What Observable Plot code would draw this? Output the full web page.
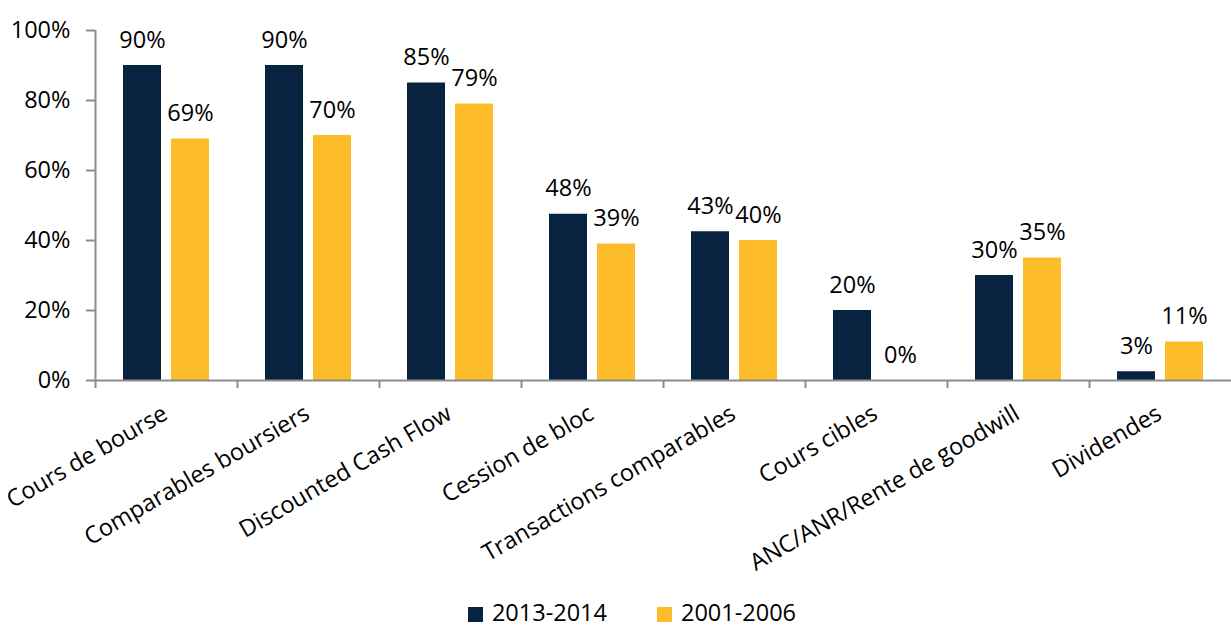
<!DOCTYPE html>
<html>
<head>
<meta charset="utf-8">
<script src="https://cdn.jsdelivr.net/npm/d3@7"></script>
<script src="https://cdn.jsdelivr.net/npm/@observablehq/plot@0.6"></script>
<style>
  html, body { margin: 0; padding: 0; background: #fff; }
  body { width: 1231px; height: 626px; overflow: hidden; font-family: "Open Sans", sans-serif; }
  #chart svg { display: block; }
  #legend { display: flex; justify-content: center; align-items: center; height: 26px; font-size: 23.5px; line-height: 1; color: #000; padding-left: 33px; }
  .item { display: flex; align-items: center; margin: 0 25px; line-height: 1; }
  .sw { width: 15px; height: 15px; margin-right: 9px; margin-top: 2px; }
</style>
</head>
<body>
<div id="chart"></div>
<div id="legend"></div>
<script>
const categories = ["Cours de bourse", "Comparables boursiers", "Discounted Cash Flow", "Cession de bloc", "Transactions comparables", "Cours cibles", "ANC/ANR/Rente de goodwill", "Dividendes"];
const series = ["2013-2014", "2001-2006"];
const values2013 = [90, 90, 85, 47.5, 42.5, 20, 30, 2.5];
const values2001 = [69, 70, 79, 39, 40, 0, 35, 11];
const yTicks = [0, 20, 40, 60, 80, 100];
const colors = ["#08233f", "#fdbd2a"];

const d13 = categories.map((c, i) => ({cat: c, v: values2013[i]}));
const d01 = categories.map((c, i) => ({cat: c, v: values2001[i]}));
const fmt = v => Math.round(v) + "%";
const gray = "#8c8c8c";
const FS = 23.5;

const chart = Plot.plot({
  width: 1231,
  height: 600,
  marginLeft: 95,
  marginRight: 0,
  marginTop: 30,
  marginBottom: 220,
  style: {fontFamily: "Open Sans, sans-serif", fontSize: FS + "px", color: "#000", background: "#fff"},
  x: {domain: categories, padding: 0, axis: null},
  y: {domain: [0, 100], axis: null},
  marks: [
    Plot.barY(d13, {x: "cat", y: "v", fill: colors[0], insetLeft: 28, insetRight: 76}),
    Plot.barY(d01, {x: "cat", y: "v", fill: colors[1], insetLeft: 76, insetRight: 28}),
    Plot.text(d13, {x: "cat", y: "v", text: d => fmt(d.v), dx: -24, dy: -18, lineAnchor: "bottom", fill: "#000", fontSize: FS}),
    Plot.text(d01, {x: "cat", y: "v", text: d => fmt(d.v), dx: 24, dy: -18, lineAnchor: "bottom", fill: "#000", fontSize: FS}),
    Plot.ruleY([0], {stroke: gray, strokeWidth: 2}),
    Plot.ruleX([categories[0]], {x: d => d, dx: -71, y1: 0, y2: 100, stroke: gray, strokeWidth: 2}),
    Plot.axisY({ticks: yTicks, tickSize: 9, tickPadding: 16, tickFormat: d => d + "%", stroke: gray, strokeWidth: 2, fontSize: FS, fill: "#000", label: null}),
    Plot.axisX({tickSize: 8, tickFormat: () => "", dx: -71, stroke: gray, strokeWidth: 2, label: null}),
    Plot.text(categories, {x: d => d, frameAnchor: "bottom", dy: 31, dx: -1, rotate: -30, textAnchor: "end", lineAnchor: "middle", fill: "#000", fontSize: FS})
  ]
});
document.getElementById("chart").appendChild(chart);

const legend = document.getElementById("legend");
series.forEach((s, i) => {
  const it = document.createElement("div");
  it.className = "item";
  const sw = document.createElement("span");
  sw.className = "sw";
  sw.style.background = colors[i];
  const t = document.createElement("span");
  t.textContent = s;
  it.appendChild(sw); it.appendChild(t);
  legend.appendChild(it);
});
</script>
</body>
</html>
